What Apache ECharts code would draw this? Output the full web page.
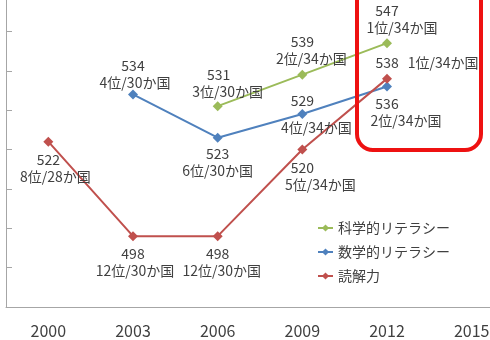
<!DOCTYPE html>
<html>
<head>
<meta charset="utf-8">
<script src="https://cdn.jsdelivr.net/npm/echarts@6/dist/echarts.min.js"></script>
<style>
  html, body { margin: 0; padding: 0; background: #fff; }
  #chart { width: 490px; height: 340px; }
</style>
</head>
<body>
<div id="chart"></div>
<script>
// PISA survey years
const years = ['2000', '2003', '2006', '2009', '2012', '2015'];

// Mean scores per literacy domain (null = not surveyed as a main domain)
const scienceScores = [null, null, 531, 539, 547, null];
const mathScores    = [null, 534, 523, 529, 536, null];
const readingScores = [522, 498, 498, 520, 538, null];

// Rank among participating OECD countries
const scienceRanks = [null, null, '3位/30か国', '2位/34か国', '1位/34か国', null];
const mathRanks    = [null, '4位/30か国', '6位/30か国', '4位/34か国', '2位/34か国', null];
const readingRanks = ['8位/28か国', '12位/30か国', '12位/30か国', '5位/34か国', '1位/34か国', null];

const seriesNames = ['科学的リテラシー', '数学的リテラシー', '読解力'];
const seriesColors = ['#9BBB59', '#4F81BD', '#C0504D'];

// Label placement per point: side, offset of block centre, shift of score line
// relative to the rank line, and the layout kind
const placements = [
  [null, null,
   { pos: 'top', dx: 10, dy: -1.5, shift: -9 },
   { pos: 'top', dx: 9, dy: -3, shift: -9 },
   { pos: 'top', dx: 15, dy: -2, shift: -15 },
   null],
  [null,
   { pos: 'top', dx: 2, dy: 1.5, shift: -2 },
   { pos: 'bottom', dx: 0, dy: 2.5, shift: 0 },
   { pos: 'top', dx: 14, dy: 27, shift: -14, kind: 'split' },
   { pos: 'bottom', dx: 19, dy: 3.5, shift: -19 },
   null],
  [{ pos: 'bottom', dx: 7, dy: 4.5, shift: -7 },
   { pos: 'bottom', dx: 2, dy: 4.5, shift: -2 },
   { pos: 'bottom', dx: 4, dy: 4.5, shift: -4 },
   { pos: 'bottom', dx: 18, dy: 5, shift: -18 },
   { pos: 'top', dx: 40, dy: -2.5, shift: 0, kind: 'inline' },
   null]
];

const FONT = "'Noto Sans CJK JP', 'Noto Sans', sans-serif";
const TEXT = '#404040';

function buildData(scores, ranks, place) {
  return scores.map(function (v, i) {
    if (v == null) return null;
    const p = place[i];
    const pad = p.shift < 0 ? [0, -2 * p.shift, 0, 0] : [0, 0, 0, 2 * p.shift];
    let fmt;
    const rich = {
      n: { fontFamily: FONT, fontSize: 14, color: TEXT, lineHeight: 17, padding: pad, align: 'center' },
      g: { fontSize: 1, lineHeight: 10 },
      r: { fontFamily: FONT, fontSize: 14, color: TEXT, lineHeight: 17, align: 'center' }
    };
    if (p.kind === 'inline') {
      fmt = '{n|' + v + '}{r|' + ranks[i] + '}';
      rich.n.padding = [0, 0, 0, 0];
      rich.r.padding = [0, 0, 0, 9];
    } else if (p.kind === 'split') {
      fmt = '{n|' + v + '}\n{g| }\n{r|' + ranks[i] + '}';
    } else {
      fmt = '{n|' + v + '}\n{r|' + ranks[i] + '}';
    }
    return {
      value: v,
      label: {
        show: true,
        position: p.pos,
        distance: 0,
        offset: [p.dx, p.dy],
        formatter: fmt,
        rich: rich
      }
    };
  });
}

const allScores = [scienceScores, mathScores, readingScores];
const allRanks = [scienceRanks, mathRanks, readingRanks];

const chart = echarts.init(document.getElementById('chart'), null, { renderer: 'canvas' });

chart.setOption({
  animation: false,
  backgroundColor: '#ffffff',
  textStyle: { fontFamily: FONT },
  // plot area runs past the right and top edges of the canvas
  grid: { left: 6, top: -8, width: 508, height: 315, outerBoundsMode: 'none', containLabel: false },
  legend: {
    orient: 'vertical',
    left: 317,
    top: 221,
    padding: 0,
    itemWidth: 15,
    itemHeight: 9,
    itemGap: 10,
    data: seriesNames,
    textStyle: { fontFamily: FONT, fontSize: 14, color: TEXT }
  },
  xAxis: {
    type: 'category',
    data: years,
    boundaryGap: true,
    axisLine: { lineStyle: { color: '#A6A6A6', width: 1 } },
    axisTick: { inside: true, length: 5, lineStyle: { color: '#A6A6A6' } },
    axisLabel: { fontFamily: FONT, fontSize: 16, color: TEXT, margin: 16 },
    splitLine: { show: false }
  },
  yAxis: {
    type: 'value',
    min: 480,
    max: 560,
    interval: 10,
    axisLine: { show: true, lineStyle: { color: '#A6A6A6', width: 1 } },
    axisTick: { show: true, inside: true, length: 6, lineStyle: { color: '#A6A6A6' } },
    axisLabel: { show: false },
    splitLine: { show: false }
  },
  series: seriesNames.map(function (name, k) {
    return {
      name: name,
      type: 'line',
      data: buildData(allScores[k], allRanks[k], placements[k]),
      symbol: 'diamond',
      symbolSize: 10,
      connectNulls: false,
      lineStyle: { color: seriesColors[k], width: 2 },
      itemStyle: { color: seriesColors[k] },
      emphasis: { disabled: true }
    };
  })
});

// Highlight box around the 2012 results
const cx = chart.convertToPixel({ xAxisIndex: 0 }, '2012');
chart.setOption({
  graphic: [{
    type: 'rect',
    shape: { x: cx - 30, y: -30, width: 124, height: 180, r: 16 },
    style: { fill: 'none', stroke: '#EE1111', lineWidth: 4 },
    z: 100
  }]
});
</script>
</body>
</html>
